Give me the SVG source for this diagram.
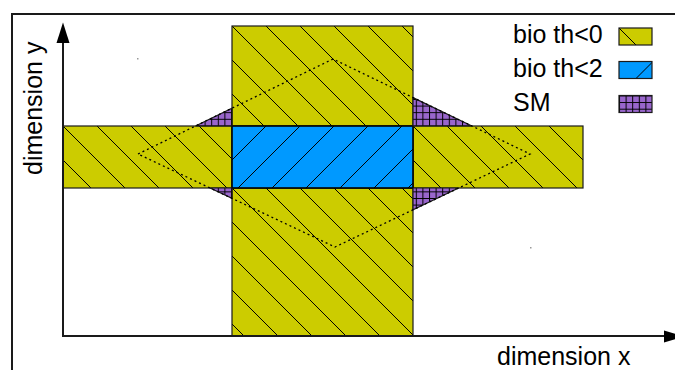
<svg xmlns="http://www.w3.org/2000/svg" xmlns:xlink="http://www.w3.org/1999/xlink" width="675" height="370" viewBox="0 0 675 370">
  <style>
    .lbl { font-family: "Liberation Sans", Arial, sans-serif; font-size: 25px; fill: #000; }
    .edge { stroke: #1a1a1a; stroke-width: 1.2; }
    .axis { stroke: #1a1a1a; stroke-width: 2; fill: none; }
    .dot { fill: none; stroke: #000; stroke-width: 1.3; stroke-dasharray: 2 3; }
  </style>
  <defs>
    <pattern id="hy" patternUnits="userSpaceOnUse" width="34" height="34">
      <rect width="34" height="34" fill="#cccc00"/>
      <path d="M-2,-2 L36,36 M-2,32 L2,36 M32,-2 L36,2" stroke="#000" stroke-width="1"/>
    </pattern>
    <pattern id="hb" patternUnits="userSpaceOnUse" width="34" height="34">
      <rect width="34" height="34" fill="#0099ff"/>
      <path d="M-2,36 L36,-2 M-2,2 L2,-2 M32,36 L36,32" stroke="#000" stroke-width="1"/>
    </pattern>
    <pattern id="hp" patternUnits="userSpaceOnUse" width="6.6" height="6.6">
      <rect width="6.6" height="6.6" fill="#9966cc"/>
      <path d="M0.5,0 V6.6 M0,0.5 H6.6" stroke="#000" stroke-width="1"/>
    </pattern>
    <pattern id="hyL" href="#hy" xlink:href="#hy" x="63" y="126"/>
    <pattern id="hyR" href="#hy" xlink:href="#hy" x="413" y="126"/>
    <pattern id="hyT" href="#hy" xlink:href="#hy" x="232" y="26"/>
    <pattern id="hyB" href="#hy" xlink:href="#hy" x="232" y="188"/>
    <pattern id="hbC" href="#hb" xlink:href="#hb" x="232" y="126"/>
    <pattern id="hyS" href="#hy" xlink:href="#hy" x="619" y="28"/>
    <pattern id="hbS" href="#hb" xlink:href="#hb" x="619" y="61.5"/>
    <pattern id="hpS" href="#hp" xlink:href="#hp" x="619" y="95.5"/>
  </defs>

  <rect width="675" height="370" fill="#fff"/>

  <!-- frame -->
  <rect x="12" y="14" width="700" height="400" fill="none" stroke="#1a1a1a" stroke-width="2"/>

  <!-- regions -->
  <g id="bio-th0-left"><rect class="edge" x="63" y="126" width="169" height="62" fill="url(#hyL)"/></g>
  <g id="bio-th0-right"><rect class="edge" x="413" y="126" width="170" height="62" fill="url(#hyR)"/></g>
  <g id="bio-th0-top"><rect class="edge" x="232" y="26" width="181" height="100" fill="url(#hyT)"/></g>
  <g id="bio-th0-bottom"><rect class="edge" x="232" y="188" width="181" height="148" fill="url(#hyB)"/></g>
  <g id="bio-th2"><rect x="232" y="126" width="181" height="62" fill="url(#hbC)" stroke="#000" stroke-width="1.6"/></g>
  <g id="sm">
    <path class="edge" d="M195.5,126 L232,108.2 L232,126 Z" fill="url(#hp)"/>
    <path class="edge" d="M413,97.6 L471.9,126 L413,126 Z" fill="url(#hp)"/>
    <path class="edge" d="M413,188 L458.7,188 L413,209.8 Z" fill="url(#hp)"/>
    <path class="edge" d="M210,188 L232,188 L232,198.4 Z" fill="url(#hp)"/>
  </g>

  <!-- connectors / axes -->
  <g id="connectors">
    <path class="dot" d="M138,154 L333,59 L530,154 L335,247 Z"/>
    <path class="axis" d="M63,43 V336 H665"/>
    <path d="M63,22.5 L56.5,43 L69.5,43 Z" fill="#000"/>
    <path d="M685,336.5 L664,330.5 L664,342.5 Z" fill="#000"/>
  </g>

  <rect x="137" y="58" width="1.5" height="1.5" fill="#999"/>
  <rect x="530" y="247" width="1.5" height="1.5" fill="#999"/>

  <!-- axis labels -->
  <text class="lbl" x="497" y="365">dimension x</text>
  <text class="lbl" transform="translate(42,175) rotate(-90)">dimension y</text>

  <!-- legend -->
  <g id="legend">
    <text class="lbl" x="513" y="42.5">bio th&lt;0</text>
    <rect class="edge" x="619" y="28" width="33" height="17" fill="url(#hyS)"/>
    <text class="lbl" x="513" y="76.5">bio th&lt;2</text>
    <rect class="edge" x="619" y="61.5" width="33" height="17" fill="url(#hbS)"/>
    <text class="lbl" x="513" y="110.5">SM</text>
    <rect class="edge" x="619" y="95.5" width="33" height="17" fill="url(#hpS)"/>
  </g>
</svg>
